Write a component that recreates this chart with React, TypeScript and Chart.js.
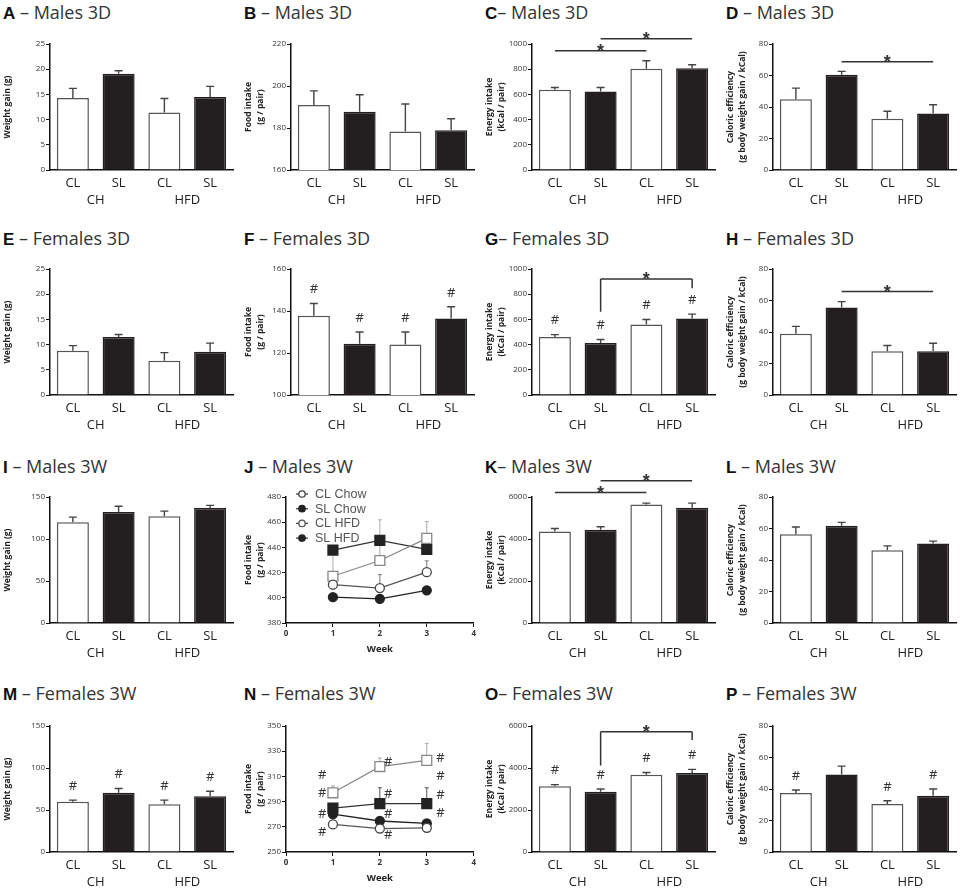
import { useEffect, useRef } from 'react';
import { Chart, registerables } from 'chart.js';
import type { ChartConfiguration, Plugin } from 'chart.js';

Chart.register(...registerables);
Chart.defaults.font.family = "'Open Sans', 'DejaVu Sans', sans-serif";

const barLabels = ['CL', 'SL', 'CL', 'SL'];
const dietLabels = ['CH', 'HFD'];
const weeks = [1, 2, 3];
const lineSeries = ['CL Chow', 'SL Chow', 'CL HFD', 'SL HFD'];

// 3 days, males
const aMean = [14.3, 19.1, 11.4, 14.5];
const aSem = [1.9, 0.6, 2.8, 2.1];
const bMean = [191.0, 187.7, 178.3, 178.9];
const bSem = [6.7, 8.1, 13.1, 5.5];
const cMean = [637, 623, 804, 808];
const cSem = [18, 32, 63, 27];
const dMean = [45, 60.5, 32.5, 35.8];
const dSem = [7, 2.1, 4.8, 5.6];

// 3 days, females
const eMean = [8.8, 11.5, 6.8, 8.6];
const eSem = [1.0, 0.5, 1.6, 1.7];
const fMean = [137.7, 124.4, 124.1, 136.4];
const fSem = [5.9, 5.6, 5.9, 5.6];
const gMean = [460, 412, 559, 607];
const gSem = [19, 29, 40, 35];
const hMean = [38.9, 55.6, 27.8, 27.8];
const hSem = [4.7, 3.7, 3.6, 5.1];

// 3 weeks, males
const iMean = [120, 132, 127.2, 136.8];
const iSem = [6, 7, 6, 3.2];
const jSeries = [
  [410.4, 407.7, 420.3],
  [400.5, 399.2, 405.9],
  [417.1, 429.6, 447.2],
  [437.9, 445.6, 438.4],
];
const jSems = [
  [2, 10.7, 9],
  [1, 1, 1],
  [18, 32.3, 13.3],
  [3, 3, 3],
];
const kMean = [4355, 4435, 5645, 5484];
const kSem = [145, 145, 65, 226];
const lMean = [56.3, 61.7, 46.2, 50.5];
const lSem = [4.7, 2.2, 2.8, 1.5];

// 3 weeks, females
const mMean = [59.7, 70.4, 56.9, 66.5];
const mSem = [2.0, 5.2, 4.8, 5.9];
const nSeries = [
  [271.9, 268.6, 269.2],
  [280.0, 274.6, 272.7],
  [297.0, 317.8, 322.7],
  [284.9, 288.4, 288.4],
];
const nSems = [
  [1, 1, 1],
  [1, 1.5, 3],
  [5.4, 6.8, 13.5],
  [3, 12.6, 12.6],
];
const nHashX = [0.77, 0.77, 0.77, 0.77, 2.18, 2.18, 2.18, 2.18, 3.29, 3.29, 3.29, 3.29];
const nHashY = [310.5, 296.5, 280, 266, 321, 296, 280, 263.5, 324, 310, 295, 281];
const oMean = [3126, 2873, 3676, 3756];
const oSem = [80, 127, 112, 177];
const pMean = [37.4, 49.2, 30.4, 35.7];
const pSem = [2.0, 5.3, 2.1, 4.3];

const allHash = [1, 1, 1, 1];
const pHash = [1, 0, 1, 1];

type Sig = { from: number; to: number; y: number; legs?: [number, number] };
const cSig: Sig[] = [{ from: 0, to: 2, y: 947 }, { from: 1, to: 3, y: 1042 }];
const dSig: Sig[] = [{ from: 1, to: 3, y: 68.8 }];
const gSig: Sig[] = [{ from: 1, to: 3, y: 920, legs: [660, 848] }];
const hSig: Sig[] = [{ from: 1, to: 3, y: 65.7 }];
const kSig: Sig[] = [{ from: 0, to: 2, y: 6210 }, { from: 1, to: 3, y: 6774 }];
const oSig: Sig[] = [{ from: 1, to: 3, y: 5727, legs: [4125, 5330] }];

const yWeight = 'Weight gain (g)';
const yFood = ['Food intake', '(g / pair)'];
const yEnergy = ['Energy intake', '(kCal / pair)'];
const yCaloric = ['Caloric efficiency', '(g body weight gain / kCal)'];

type BarSpec = {
  kind: 'bar'; letter: string; rest: string; ylabel: string | string[];
  min: number; max: number; step: number; mean: number[]; sem: number[];
  hash?: number[]; sig?: Sig[];
};
type LineSpec = {
  kind: 'line'; letter: string; rest: string; ylabel: string | string[];
  min: number; max: number; step: number; series: number[][]; sems: number[][];
  hashX?: number[]; hashY?: number[]; legend?: boolean;
};
type Spec = BarSpec | LineSpec;

const panels: Spec[] = [
  { kind: 'bar', letter: 'A', rest: ' – Males 3D', ylabel: yWeight, min: 0, max: 25, step: 5, mean: aMean, sem: aSem },
  { kind: 'bar', letter: 'B', rest: ' – Males 3D', ylabel: yFood, min: 160, max: 220, step: 20, mean: bMean, sem: bSem },
  { kind: 'bar', letter: 'C', rest: '– Males 3D', ylabel: yEnergy, min: 0, max: 1000, step: 200, mean: cMean, sem: cSem, sig: cSig },
  { kind: 'bar', letter: 'D', rest: ' – Males 3D', ylabel: yCaloric, min: 0, max: 80, step: 20, mean: dMean, sem: dSem, sig: dSig },
  { kind: 'bar', letter: 'E', rest: ' – Females 3D', ylabel: yWeight, min: 0, max: 25, step: 5, mean: eMean, sem: eSem },
  { kind: 'bar', letter: 'F', rest: ' – Females 3D', ylabel: yFood, min: 100, max: 160, step: 20, mean: fMean, sem: fSem, hash: allHash },
  { kind: 'bar', letter: 'G', rest: '– Females 3D', ylabel: yEnergy, min: 0, max: 1000, step: 200, mean: gMean, sem: gSem, hash: allHash, sig: gSig },
  { kind: 'bar', letter: 'H', rest: ' – Females 3D', ylabel: yCaloric, min: 0, max: 80, step: 20, mean: hMean, sem: hSem, sig: hSig },
  { kind: 'bar', letter: 'I', rest: ' – Males 3W', ylabel: yWeight, min: 0, max: 150, step: 50, mean: iMean, sem: iSem },
  { kind: 'line', letter: 'J', rest: ' – Males 3W', ylabel: yFood, min: 380, max: 480, step: 20, series: jSeries, sems: jSems, legend: true },
  { kind: 'bar', letter: 'K', rest: '– Males 3W', ylabel: yEnergy, min: 0, max: 6000, step: 2000, mean: kMean, sem: kSem, sig: kSig },
  { kind: 'bar', letter: 'L', rest: ' – Males 3W', ylabel: yCaloric, min: 0, max: 80, step: 20, mean: lMean, sem: lSem },
  { kind: 'bar', letter: 'M', rest: ' – Females 3W', ylabel: yWeight, min: 0, max: 150, step: 50, mean: mMean, sem: mSem, hash: allHash },
  { kind: 'line', letter: 'N', rest: ' – Females 3W', ylabel: yFood, min: 250, max: 350, step: 20, series: nSeries, sems: nSems, hashX: nHashX, hashY: nHashY },
  { kind: 'bar', letter: 'O', rest: '– Females 3W', ylabel: yEnergy, min: 0, max: 6000, step: 2000, mean: oMean, sem: oSem, hash: allHash, sig: oSig },
  { kind: 'bar', letter: 'P', rest: ' – Females 3W', ylabel: yCaloric, min: 0, max: 80, step: 20, mean: pMean, sem: pSem, hash: pHash },
];

const COL_W = 241;
const titleMid = [12, 238, 466, 693];
const plotTop = [44, 269, 497, 726];
const PAD_TOP = 24;
const PLOT_H = 126;
const XAXIS_H = 50;

const lineStyles = [
  { line: '#555', fill: '#fff', stroke: '#444', err: '#777', style: 'circle', r: 4.5 },
  { line: '#222', fill: '#222', stroke: '#222', err: '#333', style: 'circle', r: 4.5 },
  { line: '#888', fill: '#fff', stroke: '#888', err: '#aaa', style: 'rect', r: 7 },
  { line: '#333', fill: '#222', stroke: '#222', err: '#555', style: 'rect', r: 7 },
];

function yScale(s: Spec, width: number) {
  return {
    min: s.min,
    max: s.max,
    afterFit: (sc: any) => { sc.width = width; },
    ticks: { stepSize: s.step, color: '#333', padding: 1, font: { size: 8 }, callback: (v: any) => String(v) },
    grid: { display: true, drawOnChartArea: false, drawTicks: true, tickLength: 4, color: '#111', lineWidth: 1 },
    border: { display: true, color: '#111', width: 1.5 },
    title: {
      display: true, text: s.ylabel, color: '#222', padding: { top: 1, bottom: 0 },
      font: { size: 8.5, weight: 'bold' as const, lineHeight: 1.45 },
    },
  };
}

function barExtras(s: BarSpec): Plugin {
  return {
    id: 'barExtras',
    afterDatasetsDraw(chart) {
      const ctx = chart.ctx;
      const meta = chart.getDatasetMeta(0);
      const ys = chart.scales.y;
      const xs = chart.scales.x;
      ctx.save();
      ctx.strokeStyle = '#444';
      ctx.fillStyle = '#333';
      ctx.lineWidth = 1.4;
      ctx.textAlign = 'center';
      meta.data.forEach((el: any, i) => {
        const top = ys.getPixelForValue(s.mean[i] + s.sem[i]);
        ctx.beginPath();
        ctx.moveTo(el.x, el.y);
        ctx.lineTo(el.x, top);
        ctx.moveTo(el.x - 4, top);
        ctx.lineTo(el.x + 4, top);
        ctx.stroke();
        if (s.hash && s.hash[i]) {
          ctx.font = "13px 'Open Sans'";
          ctx.textBaseline = 'middle';
          ctx.fillText('#', el.x, top - 14);
        }
      });
      ctx.strokeStyle = '#333';
      ctx.lineWidth = 1.5;
      (s.sig ?? []).forEach((g) => {
        const x1 = (meta.data[g.from] as any).x;
        const x2 = (meta.data[g.to] as any).x;
        const y = ys.getPixelForValue(g.y);
        ctx.beginPath();
        ctx.moveTo(x1, y);
        ctx.lineTo(x2, y);
        if (g.legs) {
          ctx.moveTo(x1, y);
          ctx.lineTo(x1, ys.getPixelForValue(g.legs[0]));
          ctx.moveTo(x2, y);
          ctx.lineTo(x2, ys.getPixelForValue(g.legs[1]));
        }
        ctx.stroke();
        ctx.font = "bold 18px 'Liberation Sans'";
        ctx.textBaseline = 'alphabetic';
        ctx.fillText('*', (x1 + x2) / 2, y + 6);
      });
      // diet group labels under each CL/SL pair
      ctx.fillStyle = '#222';
      ctx.font = "13px 'Open Sans'";
      ctx.textBaseline = 'middle';
      dietLabels.forEach((d, k) => {
        const a = meta.data[k * 2] as any;
        const b = meta.data[k * 2 + 1] as any;
        ctx.fillText(d, (a.x + b.x) / 2, xs.top + 30);
      });
      ctx.restore();
    },
  };
}

function barConfig(s: BarSpec): ChartConfiguration {
  return {
    type: 'bar',
    data: {
      labels: barLabels,
      datasets: [{
        data: s.mean,
        backgroundColor: barLabels.map((l) => (l === 'CL' ? '#fff' : '#231f20')),
        borderColor: barLabels.map((l) => (l === 'CL' ? '#555' : '#231f20')),
        borderWidth: 1.5,
        borderSkipped: 'bottom',
        barPercentage: 0.7,
        categoryPercentage: 1,
      }],
    },
    options: {
      animation: false,
      responsive: true,
      maintainAspectRatio: false,
      layout: { padding: { top: PAD_TOP, right: 8, left: 0, bottom: 0 } },
      plugins: { legend: { display: false }, tooltip: { enabled: false } },
      scales: {
        x: {
          afterFit: (sc: any) => { sc.height = XAXIS_H; },
          grid: { display: false, drawTicks: false },
          border: { display: true, color: '#111', width: 1.5 },
          ticks: { color: '#222', padding: 5, font: { size: 13 } },
        },
        y: yScale(s, 50) as any,
      },
    },
    plugins: [barExtras(s)],
  };
}

function lineExtras(s: LineSpec): Plugin {
  return {
    id: 'lineExtras',
    beforeDatasetsDraw(chart) {
      const ctx = chart.ctx;
      const xs = chart.scales.x;
      const ys = chart.scales.y;
      ctx.save();
      ctx.lineWidth = 1;
      s.series.forEach((vals, k) => {
        ctx.strokeStyle = lineStyles[k].err;
        vals.forEach((v, i) => {
          const x = xs.getPixelForValue(weeks[i]);
          const y1 = ys.getPixelForValue(v + s.sems[k][i]);
          ctx.beginPath();
          ctx.moveTo(x, ys.getPixelForValue(v));
          ctx.lineTo(x, y1);
          ctx.moveTo(x - 2, y1);
          ctx.lineTo(x + 2, y1);
          ctx.stroke();
        });
      });
      ctx.restore();
    },
    afterDraw(chart) {
      const ctx = chart.ctx;
      const xs = chart.scales.x;
      const ys = chart.scales.y;
      const area = chart.chartArea;
      ctx.save();
      if (s.hashX && s.hashY) {
        ctx.fillStyle = '#333';
        ctx.font = "13px 'Open Sans'";
        ctx.textAlign = 'center';
        ctx.textBaseline = 'middle';
        s.hashX.forEach((hx, i) => {
          ctx.fillText('#', xs.getPixelForValue(hx), ys.getPixelForValue(s.hashY![i]));
        });
      }
      if (s.legend) {
        ctx.font = "12.5px 'Liberation Sans'";
        ctx.textAlign = 'left';
        ctx.textBaseline = 'middle';
        lineSeries.forEach((name, k) => {
          const st = lineStyles[k];
          const y = area.top - 3 + k * 14.7;
          const x = area.left + 16;
          ctx.strokeStyle = '#444';
          ctx.lineWidth = 1.3;
          ctx.beginPath();
          ctx.moveTo(x - 6, y);
          ctx.lineTo(x + 6, y);
          ctx.stroke();
          ctx.beginPath();
          ctx.arc(x, y, 3.2, 0, Math.PI * 2);
          ctx.fillStyle = k % 2 === 0 ? '#fff' : '#222';
          ctx.fill();
          ctx.strokeStyle = st.stroke === '#888' ? '#555' : st.stroke;
          ctx.stroke();
          ctx.fillStyle = '#555';
          ctx.fillText(name, x + 13, y + 0.5);
        });
      }
      ctx.restore();
    },
  };
}

function lineConfig(s: LineSpec): ChartConfiguration {
  return {
    type: 'line',
    data: {
      datasets: s.series.map((vals, k) => ({
        label: lineSeries[k],
        data: weeks.map((w, i) => ({ x: w, y: vals[i] })),
        borderColor: lineStyles[k].line,
        borderWidth: 1.3,
        pointStyle: lineStyles[k].style as any,
        pointRadius: lineStyles[k].r,
        pointBackgroundColor: lineStyles[k].fill,
        pointBorderColor: lineStyles[k].stroke,
        pointBorderWidth: 1.3,
        fill: false,
        tension: 0,
      })),
    },
    options: {
      animation: false,
      responsive: true,
      maintainAspectRatio: false,
      layout: { padding: { top: PAD_TOP, right: 7, left: 0, bottom: 0 } },
      plugins: { legend: { display: false }, tooltip: { enabled: false } },
      scales: {
        x: {
          type: 'linear',
          min: 0,
          max: 4,
          afterFit: (sc: any) => { sc.height = XAXIS_H; },
          ticks: { stepSize: 1, color: '#333', padding: 2, font: { size: 8, weight: 'bold' } },
          grid: { display: true, drawOnChartArea: false, drawTicks: true, tickLength: 4, color: '#111' },
          border: { display: true, color: '#111', width: 1.5 },
          title: { display: true, text: 'Week', color: '#222', padding: { top: 0, bottom: 18 }, font: { size: 9.5, weight: 'bold' } },
        },
        y: yScale(s, 45) as any,
      },
    },
    plugins: [lineExtras(s)],
  };
}

function Panel({ spec, index }: { spec: Spec; index: number }) {
  const ref = useRef<HTMLCanvasElement | null>(null);
  const row = Math.floor(index / 4);
  const col = index % 4;

  useEffect(() => {
    if (!ref.current) return;
    const cfg = spec.kind === 'bar' ? barConfig(spec) : lineConfig(spec);
    const chart = new Chart(ref.current, cfg);
    return () => chart.destroy();
  }, [spec]);

  return (
    <>
      <div
        style={{
          position: 'absolute',
          left: col * COL_W + 3,
          top: titleMid[row] - 12,
          height: 24,
          lineHeight: '24px',
          fontFamily: "'Open Sans', sans-serif",
          fontSize: 18,
          color: '#333',
          whiteSpace: 'nowrap',
        }}
      >
        <span style={{ fontWeight: 700, color: '#111', fontFamily: "'Liberation Sans', sans-serif", fontSize: 17 }}>{spec.letter}</span>
        {spec.rest}
      </div>
      <div
        style={{
          position: 'absolute',
          left: col * COL_W,
          top: plotTop[row] - PAD_TOP,
          width: COL_W,
          height: PAD_TOP + PLOT_H + XAXIS_H,
        }}
      >
        <canvas ref={ref} />
      </div>
    </>
  );
}

export default function App() {
  return (
    <div style={{ position: 'absolute', left: 0, top: 0, width: 964, height: 892, background: '#fff', overflow: 'hidden' }}>
      {panels.map((p, i) => (
        <Panel key={p.letter} spec={p} index={i} />
      ))}
    </div>
  );
}
